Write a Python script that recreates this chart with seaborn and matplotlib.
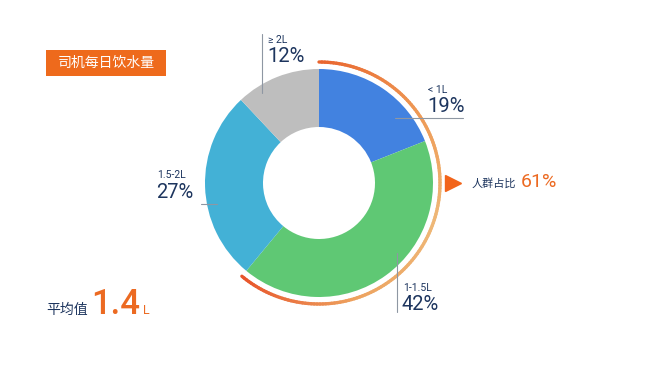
import numpy as np
import matplotlib
matplotlib.use('Agg')
import matplotlib.pyplot as plt
import seaborn as sns
from matplotlib.collections import LineCollection
from matplotlib.colors import LinearSegmentedColormap
from matplotlib.patches import Rectangle

# data
categories = ['< 1L', '1-1.5L', '1.5-2L', '≥ 2L']
shares = [19, 42, 27, 12]
highlight_n = 2  # first two slices make up the highlighted group
avg_value = 1.4
title = '司机每日饮水量'

colors = ['#4282E0', '#5FC874', '#43B1D6', '#BEBEBE']
navy = '#1D355E'
orange = '#EC6A22'

sns.set_theme(style='white')
plt.rcParams['font.family'] = ['Noto Sans CJK SC', 'DejaVu Sans']
latin = ['Roboto', 'DejaVu Sans']

f = plt.figure(figsize=(6.5, 3.65), dpi=100)
ax = f.add_axes([0, 0, 1, 1])

cx, cy, r_out = 319, 182, 114
ax.pie(shares, startangle=90, counterclock=False, colors=colors, radius=r_out,
       center=(cx, cy), wedgeprops=dict(width=58, linewidth=0))

# gradient arc around the highlighted share
share_hi = sum(shares[:highlight_n])
theta = np.radians(np.linspace(90, 90 - share_hi / 100 * 360, 160))
r_arc = 121
pts = np.column_stack([cx + r_arc * np.cos(theta), cy + r_arc * np.sin(theta)])
segs = np.stack([pts[:-1], pts[1:]], axis=1)
cmap = LinearSegmentedColormap.from_list('arc', ['#E9652E', '#EE9A56', '#EEB878', '#EDA25F', '#E8552B'])
lc = LineCollection(segs, colors=cmap(np.linspace(0, 1, len(segs))), linewidths=2.4, capstyle='round')
ax.add_collection(lc)

ax.plot([453], [cy], marker='>', markersize=11, color='#F2641A', linestyle='none')
ax.text(472, cy, '人群占比', fontsize=8, color=navy, va='center', ha='left')
ax.text(521, cy + 1, f'{share_hi}%', fontsize=14, color=orange, va='center', ha='left',
        family=latin)

# slice labels: (x, y of small label) and leader lines
label_xy = [(428, 275), (403, 77), (157, 190), (268, 325)]
leaders = [([395, 463], [247, 247]), ([397, 397], [112, 53]),
           ([201, 217], [161, 161]), ([262, 262], [331, 272])]
for cat, s, (x, y), (lx, ly) in zip(categories, shares, label_xy, leaders):
    ax.text(x, y, cat, fontsize=7.5, color=navy, va='center', ha='left', family=latin)
    ax.text(x - 1, y - 17, f'{s}%', fontsize=14.5, color=navy, va='center', ha='left',
            family=latin)
    ax.plot(lx, ly, color='#8E97A3', linewidth=0.8)

# title box
ax.add_patch(Rectangle((46, 289), 120, 26, facecolor='#EE6A1C', edgecolor='none'))
ax.text(106, 302, title, fontsize=10, color='white', va='center', ha='center', fontweight='medium')

# average value
ax.text(46, 55, '平均值', fontsize=10, color=navy, va='center', ha='left', fontweight='medium')
ax.text(91, 61, f'{avg_value}', fontsize=25, color=orange, va='center', ha='left',
        family=latin, fontweight='medium')
ax.text(143, 55, 'L', fontsize=9, color=orange, va='center', ha='left', family=latin)

ax.set_xlim(0, 650)
ax.set_ylim(0, 365)
ax.set_aspect('equal')
ax.axis('off')
f.savefig('out.png', dpi=100, facecolor='white')
